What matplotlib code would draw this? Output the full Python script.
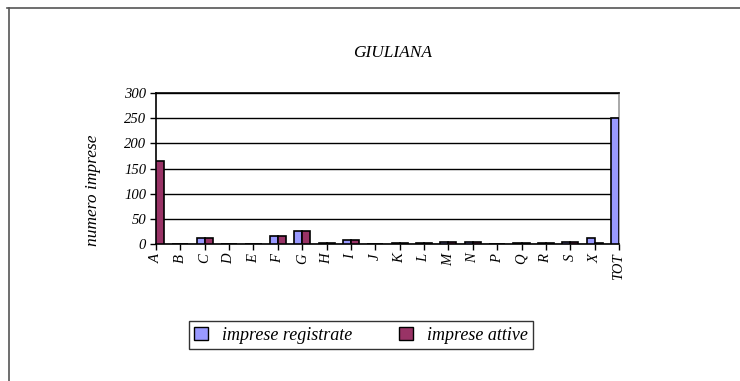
import matplotlib
matplotlib.use("Agg")
import matplotlib.pyplot as plt
from matplotlib.lines import Line2D
from matplotlib.patches import Patch
import numpy as np

categories = ["A", "B", "C", "D", "E", "F", "G", "H", "I", "J", "K", "L",
              "M", "N", "P", "Q", "R", "S", "X", "TOT"]
registrate = [0, 0, 11, 0, 0, 15, 26, 2, 7, 0, 1, 1, 3, 3, 0, 2, 1, 3, 12, 250]
attive = [165, 0, 11, 0, 0, 15, 26, 2, 7, 0, 1, 1, 3, 3, 0, 2, 1, 4, 1, 0]
yticks = [0, 50, 100, 150, 200, 250, 300]

plt.rcParams['font.family'] = ['Liberation Serif', 'DejaVu Serif']
plt.rcParams['font.style'] = 'italic'

fig = plt.figure(figsize=(7.4, 3.81), dpi=100)
fig.patch.set_facecolor('white')

# outer frame lines (top and left)
fig.add_artist(Line2D([7/740, 1], [1-8/381, 1-8/381], color='#555555', lw=1.2, transform=fig.transFigure))
fig.add_artist(Line2D([9/740, 9/740], [0, 1-8/381], color='#555555', lw=1.2, transform=fig.transFigure))

ax = fig.add_axes([156/740, 1-244/381, 463/740, 151/381])
x = np.arange(len(categories))
w = 0.33
ax.bar(x - w/2, registrate, width=w, color='#9999FF', edgecolor='black', linewidth=1.2, zorder=3)
ax.bar(x + w/2, attive, width=w, color='#993366', edgecolor='black', linewidth=1.2, zorder=3)

ax.set_xlim(0, len(categories)-1)
ax.set_ylim(0, 300)
ax.set_yticks(yticks)
ax.set_yticklabels([str(v) for v in yticks], fontsize=10.5)
ax.set_xticks(x)
ax.set_xticklabels(categories, rotation=90, fontsize=10.5)
ax.yaxis.grid(True, color='black', lw=1)
ax.set_axisbelow(True)
ax.tick_params(axis='both', direction='out', length=4, width=1, color='black', pad=3)
for s in ['left', 'bottom', 'top']:
    ax.spines[s].set_color('black')
    ax.spines[s].set_linewidth(1.2)
ax.spines['right'].set_color('#999999')
ax.spines['right'].set_linewidth(1.2)

ax.set_ylabel('numero imprese', fontsize=12.5)
ax.yaxis.set_label_coords((101-156)/463, (244-190)/151)
fig.text(393/740, 1-53/381, 'GIULIANA', ha='center', va='center', fontsize=12.5)

handles = [Patch(facecolor='#9999FF', edgecolor='black', label='imprese registrate'),
           Patch(facecolor='#993366', edgecolor='black', label='imprese attive')]
leg = fig.legend(handles=handles, loc='center', bbox_to_anchor=(361/740, 1-335/381),
                 ncol=2, frameon=True, fancybox=False, fontsize=13,
                 handlelength=0.75, handleheight=0.75, columnspacing=2.6, handletextpad=0.8,
                 borderpad=0.3, borderaxespad=0)
leg.get_frame().set_edgecolor('black')
leg.get_frame().set_linewidth(1.0)

fig.savefig('out.png', dpi=100, facecolor='white')
